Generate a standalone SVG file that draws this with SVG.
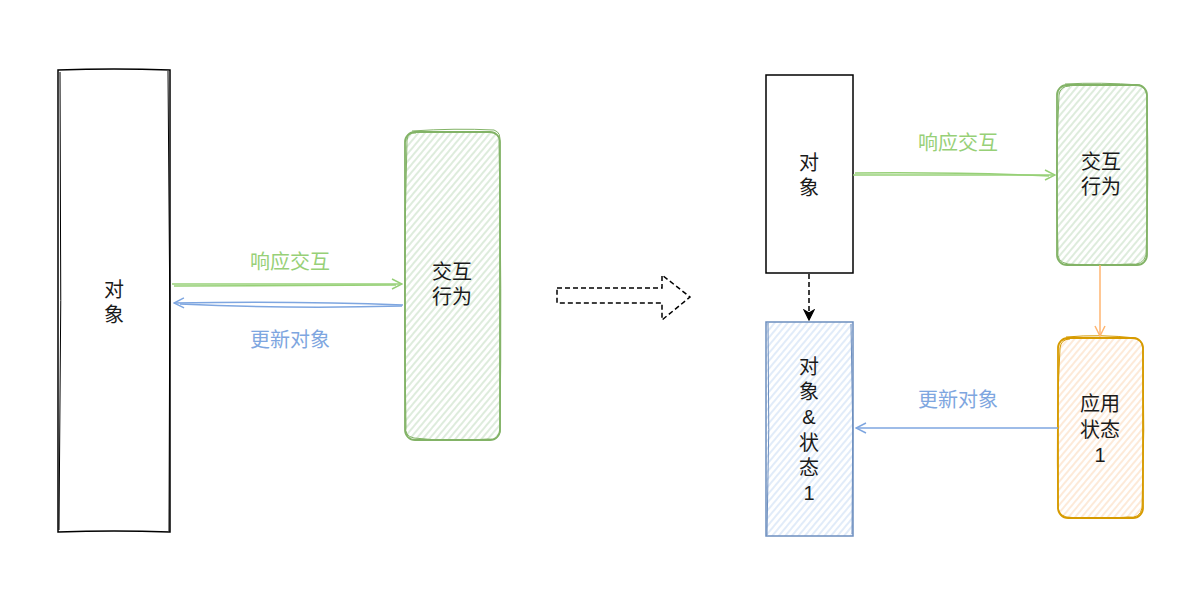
<svg xmlns="http://www.w3.org/2000/svg" width="1202" height="599" viewBox="0 0 1202 599">
  <style>
    .t { font-family: "Liberation Sans", "Noto Sans CJK SC", sans-serif; font-size: 20px; fill: #1a1a1a; text-anchor: middle; dominant-baseline: central; }
    .lg { fill: #97D077; }
    .lb { fill: #7EA6E0; }
    .blk { fill: #ffffff; stroke: #000000; stroke-width: 1.5; }
    .sk { fill: none; stroke-width: 1; }
    .gr { stroke: #82b366; }
    .bl { stroke: #6c8ebf; }
    .or { stroke: #d79b00; }
    .cg { fill: none; stroke: #97D077; stroke-width: 1.5; }
    .cb { fill: none; stroke: #7EA6E0; stroke-width: 1.5; }
    .co { fill: none; stroke: #FFB570; stroke-width: 1.5; }
    .cd { fill: none; stroke: #000000; stroke-width: 1.5; stroke-dasharray: 5 3; }
  </style>
  <defs>
    <pattern id="hg" patternUnits="userSpaceOnUse" width="5" height="5" patternTransform="rotate(40)">
      <rect width="5" height="5" fill="#ffffff"/>
      <line x1="1" y1="0" x2="1" y2="5" stroke="#c9e0c6" stroke-width="1.2"/>
    </pattern>
    <pattern id="hb" patternUnits="userSpaceOnUse" width="5" height="5" patternTransform="rotate(40)">
      <rect width="5" height="5" fill="#ffffff"/>
      <line x1="1" y1="0" x2="1" y2="5" stroke="#cddff6" stroke-width="1.2"/>
    </pattern>
    <pattern id="ho" patternUnits="userSpaceOnUse" width="5" height="5" patternTransform="rotate(40)">
      <rect width="5" height="5" fill="#ffffff"/>
      <line x1="1" y1="0" x2="1" y2="5" stroke="#fcdcbf" stroke-width="1.2"/>
    </pattern>
    <marker id="ag" viewBox="0 0 12 12" refX="11" refY="6" markerWidth="12" markerHeight="12" markerUnits="userSpaceOnUse" orient="auto">
      <path d="M1 1 L11 6 L1 11" fill="none" stroke="#97D077" stroke-width="1.5"/>
    </marker>
    <marker id="ab" viewBox="0 0 12 12" refX="11" refY="6" markerWidth="12" markerHeight="12" markerUnits="userSpaceOnUse" orient="auto">
      <path d="M1 1 L11 6 L1 11" fill="none" stroke="#7EA6E0" stroke-width="1.5"/>
    </marker>
    <marker id="ao" viewBox="0 0 12 12" refX="11" refY="6" markerWidth="12" markerHeight="12" markerUnits="userSpaceOnUse" orient="auto">
      <path d="M1 1 L11 6 L1 11" fill="none" stroke="#FFB570" stroke-width="1.5"/>
    </marker>
    <marker id="ak" viewBox="0 0 12 12" refX="11" refY="6" markerWidth="12" markerHeight="12" markerUnits="userSpaceOnUse" orient="auto">
      <path d="M1 1 L11 6 L1 11 L4 6 Z" fill="#000000" stroke="#000000" stroke-width="1.2"/>
    </marker>
  </defs>

  <!-- Left: object -->
  <g id="obj-left">
    <path class="blk" d="M58 70 Q114 68 170 70 L170 532 Q114 530 58 532 Z"/>
    <path class="sk" stroke="#000" d="M60 72 Q62 300 59 530 M168 71 Q171 300 169 531"/>
    <text class="t" x="114" y="290">对<tspan x="114" dy="25">象</tspan></text>
  </g>

  <!-- Left: interaction -->
  <g id="act-left">
    <rect x="405" y="132" width="95" height="308" rx="10" fill="url(#hg)" stroke="#82b366" stroke-width="1.8"/>
    <path class="sk gr" d="M412 131 Q455 128 494 130 Q502 133 499 142 Q502 290 500 432 Q498 441 488 439 Q450 442 414 438 Q404 436 406 426 Q403 280 407 140 Q408 132 416 133"/>
    <text class="t" x="452" y="272">交互<tspan x="452" dy="25">行为</tspan></text>
  </g>

  <!-- Big dashed transition arrow -->
  <g id="transition">
    <path class="cd" d="M557 288 L662 288 L662 275 L690 297 L662 320 L662 303 L557 303 Z"/>
  </g>

  <!-- Right: object -->
  <g id="obj-right">
    <rect class="blk" x="766" y="75" width="87" height="198"/>
    <text class="t" x="809" y="163">对<tspan x="809" dy="25">象</tspan></text>
  </g>

  <!-- Right: interaction -->
  <g id="act-right">
    <rect x="1057" y="85" width="90" height="180" rx="10" fill="url(#hg)" stroke="#82b366" stroke-width="1.8"/>
    <path class="sk gr" d="M1065 84 Q1100 82 1140 85 Q1148 90 1147 100 Q1149 180 1146 255 Q1143 266 1130 264 Q1095 266 1068 264 Q1056 262 1058 250 Q1055 170 1059 95 Q1060 86 1070 86"/>
    <text class="t" x="1101" y="162">交互<tspan x="1101" dy="25">行为</tspan></text>
  </g>

  <!-- Right: object & state -->
  <g id="obj-state">
    <rect x="766" y="322" width="87" height="214" fill="url(#hb)" stroke="#6c8ebf" stroke-width="1.5"/>
    <path class="sk bl" d="M768 323 Q770 430 767 535 M851 324 Q854 430 852 534"/>
    <text class="t" x="809" y="367">对<tspan x="809" dy="25.2">象</tspan><tspan x="809" dy="25.2">&amp;</tspan><tspan x="809" dy="25.2">状</tspan><tspan x="809" dy="25.2">态</tspan><tspan x="809" dy="25.2">1</tspan></text>
  </g>

  <!-- Right: app state -->
  <g id="app-state">
    <rect x="1058" y="338" width="85" height="180" rx="10" fill="url(#ho)" stroke="#d79b00" stroke-width="1.8"/>
    <path class="sk or" d="M1066 337 Q1100 334 1136 338 Q1144 342 1143 352 Q1145 430 1142 508 Q1140 519 1128 517 Q1095 520 1066 517 Q1057 514 1058 504 Q1056 420 1060 348 Q1061 339 1070 339"/>
    <text class="t" x="1100" y="404">应用<tspan x="1100" dy="25.5">状态</tspan><tspan x="1100" dy="25.5">1</tspan></text>
  </g>

  <!-- Connectors -->
  <g id="connectors">
    <path class="cg" d="M172 284 L402 284" marker-end="url(#ag)"/>
    <path class="cg" stroke-width="0.8" d="M174 286 Q300 285 396 285"/>
    <text class="t lg" x="290" y="262">响应交互</text>

    <path class="cb" d="M403 305 Q300 301 174 303" marker-end="url(#ab)"/>
    <path class="cb" stroke-width="0.8" d="M402 306 Q290 309 180 304"/>
    <text class="t lb" x="290" y="340">更新对象</text>

    <path class="cg" d="M853 175 L1055 175" marker-end="url(#ag)"/>
    <path class="cg" stroke-width="0.8" d="M855 173 Q960 172 1049 176"/>
    <text class="t lg" x="958" y="143">响应交互</text>

    <path class="cd" d="M809 274 L809 320" marker-end="url(#ak)"/>

    <path class="co" d="M1100 265 L1100 336" marker-end="url(#ao)"/>

    <path class="cb" d="M1058 428 L856 428" marker-end="url(#ab)"/>
    <text class="t lb" x="958" y="400">更新对象</text>
  </g>
</svg>
